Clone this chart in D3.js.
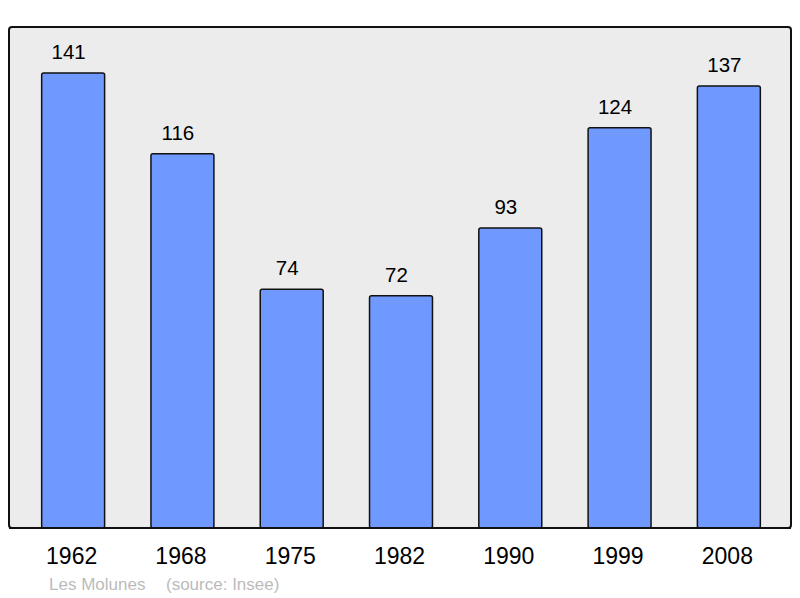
<!DOCTYPE html>
<html>
<head>
<meta charset="utf-8">
<script src="https://cdn.jsdelivr.net/npm/d3@7"></script>
<style>
  body { margin: 0; background: #fff; }
  text { font-family: "Liberation Sans", Arial, sans-serif; }
</style>
</head>
<body>
<script>
// population by census year
var years = ["1962", "1968", "1975", "1982", "1990", "1999", "2008"];
var population = [141, 116, 74, 72, 93, 124, 137];
var placeName = "Les Molunes";
var sourceNote = "(source: Insee)";

var width = 800, height = 598;

var svg = d3.select("body").append("svg")
    .attr("width", width)
    .attr("height", height);

// frame of the plot
svg.append("rect")
    .attr("x", 9).attr("y", 27)
    .attr("width", 782).attr("height", 501)
    .attr("rx", 3).attr("ry", 3)
    .style("fill", "#ececec")
    .style("stroke", "#111")
    .style("stroke-width", 2);

var x = d3.scaleBand()
    .domain(years)
    .range([18.5, 783.5])
    .paddingInner(0.424)
    .paddingOuter(0.212);

var y = d3.scaleLinear()
    .domain([0, 155.25])
    .range([528, 27]);

var data = years.map(function (d, i) { return { year: d, value: population[i] }; });

svg.selectAll("rect.bar")
    .data(data)
    .enter()
    .append("rect")
    .attr("class", "bar")
    .attr("x", function (d) { return x(d.year); })
    .attr("y", function (d) { return y(d.value); })
    .attr("width", x.bandwidth())
    .attr("height", function (d) { return y(0) - y(d.value); })
    .attr("rx", 2)
    .style("fill", "#7099ff")
    .style("stroke", "#111")
    .style("stroke-width", 1.5);

// value labels over bars
svg.selectAll("text.val")
    .data(data)
    .enter()
    .append("text")
    .attr("class", "val")
    .attr("x", function (d) { return x(d.year) + x.bandwidth() / 2 - 4.5; })
    .attr("y", function (d) { return y(d.value) - 14; })
    .attr("text-anchor", "middle")
    .style("font-size", "20.5px")
    .style("fill", "#000")
    .text(function (d) { return d.value; });

// redraw bottom edge over bars
svg.append("line")
    .attr("x1", 9).attr("x2", 791)
    .attr("y1", 528).attr("y2", 528)
    .style("stroke", "#111").style("stroke-width", 2);

// year axis
var xAxis = d3.axisBottom(x).tickSize(0).tickPadding(0);
var ax = svg.append("g")
    .attr("transform", "translate(0,528)")
    .call(xAxis);
ax.select(".domain").remove();
ax.selectAll("text")
    .attr("y", 36)
    .attr("dy", 0)
    .attr("dx", -1.5)
    .style("font-family", "'Liberation Sans', Arial, sans-serif")
    .style("font-size", "23px")
    .style("fill", "#000");

svg.append("text")
    .attr("x", 49).attr("y", 590)
    .style("font-size", "17px")
    .style("fill", "#bbb")
    .text(placeName);
svg.append("text")
    .attr("x", 166).attr("y", 590)
    .style("font-size", "17px")
    .style("fill", "#bbb")
    .text(sourceNote);
</script>
</body>
</html>
